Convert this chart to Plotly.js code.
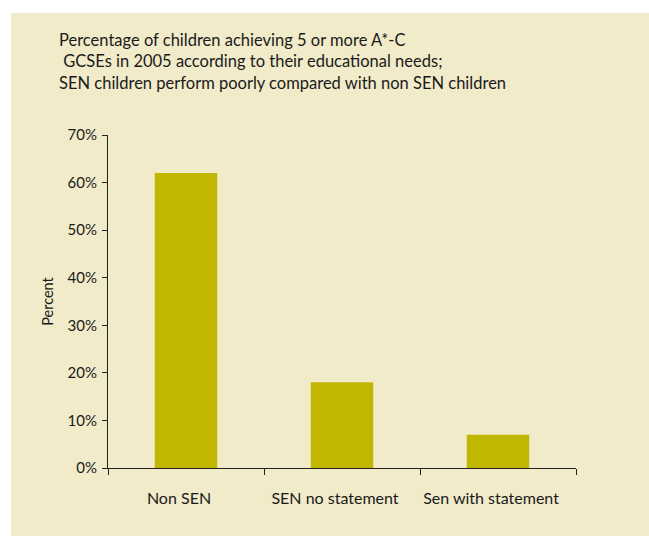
<!DOCTYPE html>
<html>
<head>
<meta charset="utf-8">
<script src="https://cdn.plot.ly/plotly-3.0.1.min.js"></script>
<style>
  html, body { margin: 0; padding: 0; background: #ffffff; }
  #chart { position: absolute; left: 11px; top: 13px; width: 638px; height: 523px; }
</style>
</head>
<body>
<div id="chart"></div>
<script>
const categories = ["Non SEN", "SEN no statement", "Sen with statement"];
const percentValues = [62, 18, 7];
const yTickValues = [0, 10, 20, 30, 40, 50, 60, 70];
const titleLines = [
  " Percentage of children achieving 5 or more A*-C",
  " GCSEs in 2005 according to their educational needs;",
  "SEN children perform poorly compared with non SEN children"
];

const font = "Lato, 'Open Sans', sans-serif";

Plotly.newPlot("chart", [{
  type: "bar",
  x: categories,
  y: percentValues,
  width: 0.4,
  marker: { color: "#C2B700" },
  hoverinfo: "x+y"
}], {
  width: 638,
  height: 523,
  paper_bgcolor: "#F1EBCA",
  plot_bgcolor: "#F1EBCA",
  margin: { l: 97, r: 73, t: 122, b: 68 },
  font: { family: font, color: "#1a1a1a", size: 14 },
  showlegend: false,
  title: {
    text: titleLines.join("<br>"),
    x: 48 / 638,
    xanchor: "left",
    xref: "container",
    y: 1 - 33 / 523,
    yanchor: "top",
    yref: "container",
    font: { family: font, size: 16.5, color: "#1a1a1a", lineposition: "none" },
    align: "left"
  },
  xaxis: {
    type: "category",
    showline: true,
    linecolor: "#222",
    linewidth: 1,
    ticks: "outside",
    tickson: "boundaries",
    ticklen: 6,
    tickcolor: "#222",
    ticklabelstandoff: 16,
    ticklabelshift: -7,
    tickfont: { family: font, size: 16, color: "#1a1a1a" },
    showgrid: false,
    zeroline: false
  },
  yaxis: {
    range: [0, 70],
    tickvals: yTickValues,
    ticktext: yTickValues.map(v => v + "%"),
    showline: true,
    linecolor: "#222",
    linewidth: 1,
    ticks: "outside",
    ticklen: 5,
    tickcolor: "#222",
    ticklabelstandoff: 2,
    tickfont: { family: font, size: 15, color: "#1a1a1a" },
    showgrid: false,
    zeroline: false,
    title: { text: "Percent", font: { family: font, size: 14.5, color: "#1a1a1a" }, standoff: 10 }
  }
}, { displayModeBar: false });
</script>
</body>
</html>
